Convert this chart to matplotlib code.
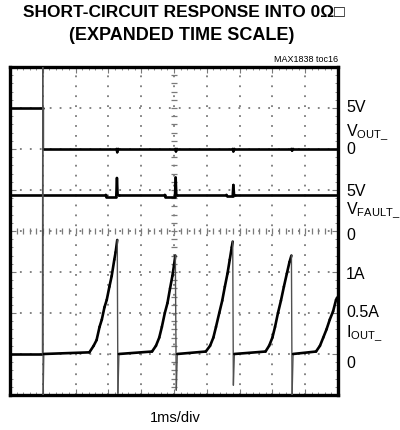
import numpy as np
import matplotlib
matplotlib.use('Agg')
import matplotlib.pyplot as plt
from matplotlib.collections import LineCollection

plt.rcParams['font.family'] = ['Liberation Sans', 'DejaVu Sans']
plt.rcParams['mathtext.fontset'] = 'custom'
plt.rcParams['mathtext.rm'] = 'Liberation Sans'

# time in ms (1ms/div, 10 div)
vout_t = [0, 1.0, 1.0, 3.25, 3.27, 3.30, 5.04, 5.06, 5.09, 6.79, 6.81, 6.84, 8.58, 8.60, 8.63, 10]
vout_v = [5, 5, 0, 0, -0.4, 0, 0, -0.3, 0, 0, -0.3, 0, 0, -0.2, 0, 0]

vfault_t = [0, 2.92, 2.94, 3.24, 3.26, 3.28, 3.31, 4.72, 4.74, 5.03, 5.05, 5.07, 5.10,
            6.60, 6.62, 6.79, 6.81, 6.83, 6.86, 10]
vfault_v = [5, 5, 4.75, 4.75, 7.05, 5, 5, 5, 4.75, 4.75, 7.1, 5, 5,
            5, 4.85, 4.85, 6.2, 5, 5, 5]

iout_t = [0, 0.99, 1.0, 1.01, 1.03, 2.42,
          2.55, 2.64, 2.73, 2.80, 2.88, 2.95, 3.03, 3.10, 3.18, 3.22, 3.27, 3.29, 3.32,
          4.33, 4.45, 4.55, 4.63, 4.72, 4.80, 4.88, 4.95, 5.00, 5.04, 5.07, 5.10,
          5.97, 6.10, 6.20, 6.28, 6.38, 6.47, 6.55, 6.63, 6.70, 6.76, 6.79, 6.81, 6.84,
          7.79, 7.90, 8.00, 8.08, 8.17, 8.26, 8.35, 8.44, 8.52, 8.58, 8.60, 8.63,
          9.33, 9.45, 9.55, 9.65, 9.75, 9.85, 9.94, 10]
iout_a = [0, 0, 4.0, -0.5, 0, 0.02,
          0.10, 0.17, 0.33, 0.42, 0.57, 0.66, 0.82, 0.95, 1.15, 1.24, 1.39, -0.48, 0,
          0.03, 0.10, 0.20, 0.33, 0.50, 0.62, 0.80, 0.95, 1.08, 1.20, -0.44, 0,
          0.03, 0.10, 0.20, 0.33, 0.50, 0.65, 0.82, 0.98, 1.15, 1.30, 1.37, -0.38, 0,
          0.03, 0.10, 0.20, 0.33, 0.50, 0.65, 0.82, 0.98, 1.12, 1.20, -0.50, 0,
          0.03, 0.10, 0.20, 0.30, 0.42, 0.52, 0.66, 0.70]

# channel offsets (div) and scales (units/div)
vout_off, vout_sc = 6.0, 5.0
vfault_off, vfault_sc = 3.88, 5.0
iout_off, iout_sc = 1.0, 0.5


def scope_trace(ax, t, vals, off, sc):
    # fast edges look thin and grey on the scope screen
    y = [off + v / sc for v in vals]
    segs, cols, widths = [], [], []
    for i in range(len(t) - 1):
        segs.append([(t[i], y[i]), (t[i + 1], y[i + 1])])
        fast = abs(y[i + 1] - y[i]) > 0.6 and (t[i + 1] - t[i]) < 0.04
        cols.append('#505050' if fast else 'black')
        widths.append(1.0 if fast else 1.9)
    ax.add_collection(LineCollection(segs, colors=cols, linewidths=widths,
                                     capstyle='round', joinstyle='round', zorder=3))


fig = plt.figure(figsize=(4, 4.3), dpi=100)
ax = fig.add_axes([0.025, 0.0814, 0.82, 0.763])
ax.set_xlim(0, 10)
ax.set_ylim(0, 8)

gray = '#7a7a7a'
for x in range(1, 10):
    ax.axvline(x, color=gray, lw=1.3, ls=(0, (1, 4.5)), zorder=1)
for y in range(1, 8):
    ax.axhline(y, color=gray, lw=1.3, ls=(0, (1, 4.5)), zorder=1)

# center graticule with small ticks
tx = np.arange(0, 10.01, 0.2)
ty = np.arange(0, 8.01, 0.2)
ax.plot(tx, np.full_like(tx, 4), ls='none', marker='|', ms=5, mew=0.9, color=gray, zorder=1)
ax.plot(np.full_like(ty, 5), ty, ls='none', marker='_', ms=5, mew=0.9, color=gray, zorder=1)

scope_trace(ax, vout_t, vout_v, vout_off, vout_sc)
scope_trace(ax, vfault_t, vfault_v, vfault_off, vfault_sc)
scope_trace(ax, iout_t, iout_a, iout_off, iout_sc)

ax.set_xticks(range(0, 11))
ax.set_yticks(range(0, 9))
ax.set_xticks(tx, minor=True)
ax.set_yticks(ty, minor=True)
ax.tick_params(which='both', direction='in', top=True, right=True,
               labelbottom=False, labelleft=False, color=gray)
ax.tick_params(which='major', length=4, width=0.8)
ax.tick_params(which='minor', length=2, width=0.6)
for s in ax.spines.values():
    s.set_linewidth(2.4)

tr = ax.get_yaxis_transform()
labels = [(7.0, '5V'), (6.42, 'V$_{\\rm OUT\\_}$'), (5.98, '0'),
          (4.95, '5V'), (4.5, 'V$_{\\rm FAULT\\_}$'), (3.9, '0'),
          (2.93, '1A'), (2.02, '0.5A'), (1.5, 'I$_{\\rm OUT\\_}$'), (0.78, '0')]
for y, s in labels:
    ax.text(1.025, y, s, transform=tr, fontsize=11.5, va='center', ha='left', clip_on=False)

fig.text(0.46, 0.970, 'SHORT-CIRCUIT RESPONSE INTO 0\u03a9\u25a1', ha='center', va='center',
         fontsize=12.5, fontweight='bold')
fig.text(0.455, 0.917, '(EXPANDED TIME SCALE)', ha='center', va='center',
         fontsize=13, fontweight='bold')
fig.text(0.845, 0.862, 'MAX1838 toc16', ha='right', va='center', fontsize=6.5)
fig.text(0.4375, 0.028, '1ms/div', ha='center', va='center', fontsize=10.5)

fig.savefig('out.png', dpi=100)
